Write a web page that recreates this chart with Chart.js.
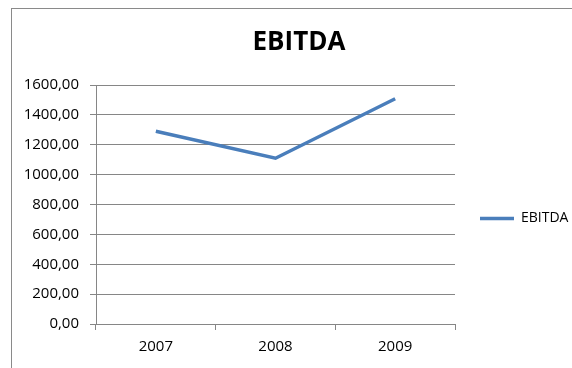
<!DOCTYPE html>
<html lang="en">
<head>
  <meta charset="UTF-8">
  <title>EBITDA</title>
  <script src="https://cdn.jsdelivr.net/npm/chart.js@4"></script>
</head>
<body>
<style>
    html, body {
        margin: 0;
        background-color: #ffffff;
        overflow: hidden;
    }

    /* clip to the picture; the reference frame runs past its right and bottom edges */
    .page-clip {
        position: fixed;
        left: 0;
        top: 0;
        width: 572px;
        height: 368px;
        overflow: hidden;
    }

    .chart-frame {
        position: absolute;
        left: 11px;
        top: 8px;
        width: 574px;
        height: 419px;
        border-left: 1px solid #8a8a8a;
        border-top: 1px solid #8a8a8a;
    }

    #ebitdaChart {
        display: block;
    }
</style>

<div class="page-clip">
  <div class="chart-frame">
    <canvas id="ebitdaChart" width="574" height="419"></canvas>
  </div>
</div>

<script>
    // values
    const years = ['2007', '2008', '2009'];
    const ebitda = [1290, 1110, 1508];
    const yTicks = [0, 200, 400, 600, 800, 1000, 1200, 1400, 1600];

    const canvasHeight = 419;
    const plotBottom = 315;

    const gridGray = '#868686';
    const lineBlue = '#4a7ebb';
    const fontFamily = "'Open Sans', 'Noto Sans', sans-serif";

    const data = {
        labels: years,
        datasets: [{
            label: 'EBITDA',
            data: ebitda,
            borderColor: lineBlue,
            backgroundColor: lineBlue,
            borderWidth: 3.5,
            pointRadius: 0,
            pointHoverRadius: 0,
            tension: 0,
            fill: false
        }]
    };

    // fixed legend width so the plot ends where the reference one does
    const legendWidthPlugin = {
        id: 'legendWidth',
        beforeInit(chart) {
            const origFit = chart.legend.fit;
            chart.legend.fit = function () {
                origFit.call(this);
                this.width = 131;
            };
        }
    };

    const options = {
        responsive: false,
        devicePixelRatio: 1,
        animation: false,
        layout: { padding: 0 },
        plugins: {
            tooltip: { enabled: false },
            title: {
                display: true,
                text: 'EBITDA',
                color: '#000000',
                font: { family: fontFamily, size: 26, weight: 'bold', lineHeight: 1.2 },
                padding: { top: 18, bottom: 26.8 }
            },
            legend: {
                display: true,
                position: 'right',
                align: 'center',
                labels: {
                    usePointStyle: true,
                    pointStyle: 'line',
                    pointStyleWidth: 34,
                    padding: 25,
                    color: '#000000',
                    font: { family: fontFamily, size: 14 }
                }
            }
        },
        scales: {
            x: {
                type: 'category',
                offset: true,
                afterFit(scale) { scale.height = canvasHeight - plotBottom; },
                grid: {
                    offset: true,
                    drawOnChartArea: false,
                    drawTicks: true,
                    tickLength: 6,
                    color: gridGray
                },
                border: { display: true, color: gridGray, width: 1 },
                ticks: {
                    color: '#000000',
                    padding: 8,
                    maxRotation: 0,
                    font: { family: fontFamily, size: 15 }
                }
            },
            y: {
                min: 0,
                max: 1600,
                afterFit(scale) { scale.width = 84; },
                afterBuildTicks(scale) {
                    scale.ticks = yTicks.map(v => ({ value: v }));
                },
                grid: {
                    drawOnChartArea: true,
                    drawTicks: true,
                    tickLength: 6,
                    color: gridGray,
                    lineWidth: 1
                },
                border: { display: true, color: gridGray, width: 1 },
                ticks: {
                    color: '#000000',
                    padding: 11,
                    font: { family: fontFamily, size: 15 },
                    callback: function (value) {
                        return Number(value).toFixed(2).replace('.', ',');
                    }
                }
            }
        }
    };

    const ebitdaChart = new Chart(document.getElementById('ebitdaChart'), {
        type: 'line',
        data: data,
        options: options,
        plugins: [legendWidthPlugin]
    });
</script>
</body>
</html>
